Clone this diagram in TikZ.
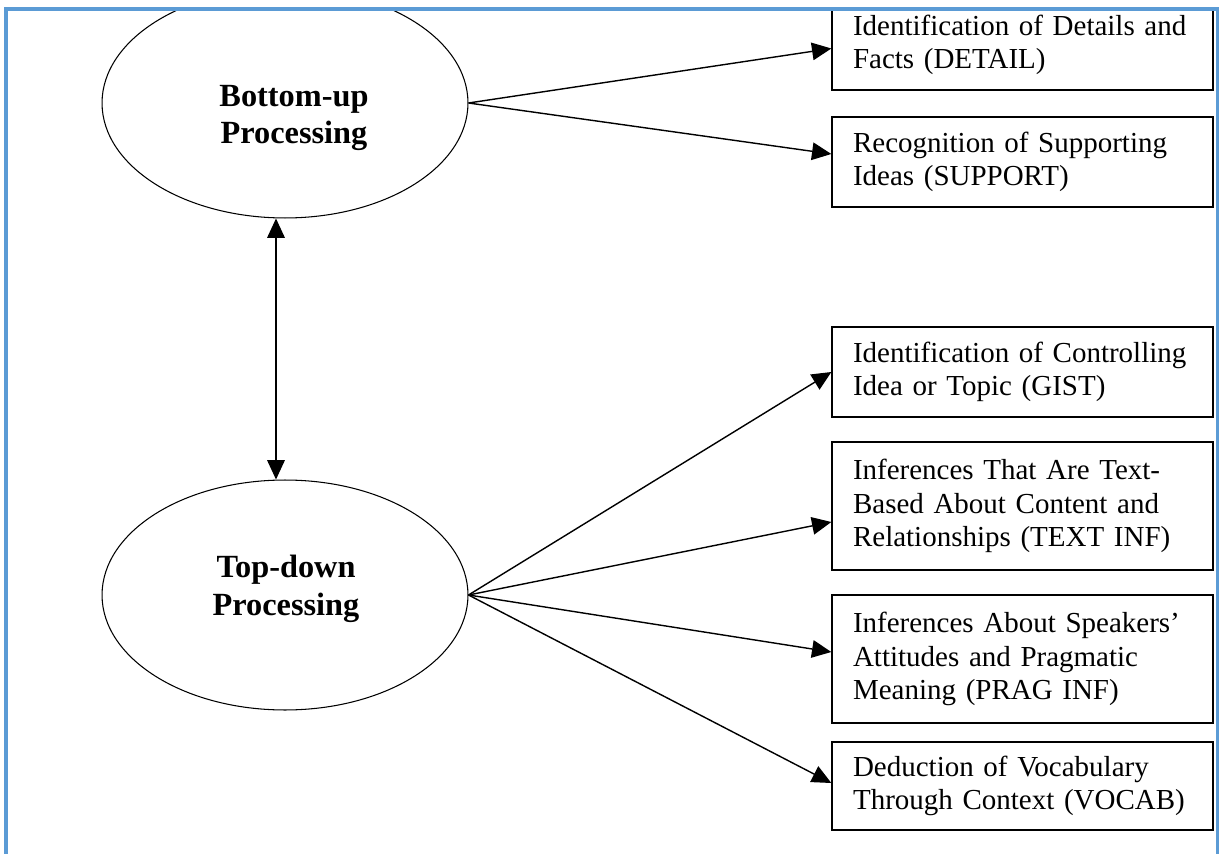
\documentclass[tikz,border=0pt]{standalone}
\usepackage{fontspec}
\setmainfont{Liberation Serif}
\usetikzlibrary{shapes,arrows.meta}
\definecolor{borderblue}{RGB}{91,155,213}

\begin{document}
\begin{tikzpicture}[x=0.02cm, y=-0.02cm,
    >={Triangle[length=11pt,width=10pt]},
    proc/.style={draw, ellipse, line width=0.6pt, minimum width=7.32cm, minimum height=4.6cm, inner sep=0pt},
    proctext/.style={align=center, inner sep=0pt, font=\fontsize{18.4}{21.5}\selectfont\bfseries},
    itembox/.style={draw, line width=0.8pt, text width=6.78cm, inner xsep=0.42cm, inner ysep=0pt,
        align=left, minimum height=1.8cm, font=\fontsize{16.5}{19}\selectfont},
    link/.style={->, line width=0.8pt}]
    % Page size, the screenshot is cut at the top and bottom
    \useasboundingbox (0,0) rectangle (1219,854);
    \begin{scope}
    \clip (6,9) rectangle (1218,854);

    % The two kinds of processing:
    \node [proc] (bu) at (285,103) {};
    \node [proc] (td) at (285,595) {};
    \node [proctext] (butext) at ([shift={(0.18cm,-0.3cm)}]bu.center) {Bottom-up\\Processing};
    \node [proctext] (tdtext) at ([shift={(0.02cm,0.12cm)}]td.center) {Top-down\\Processing};

    % Skills on the right:
    \node [itembox] (detail)  at (1022.5,45)  {Identification of Details and\\Facts (DETAIL)};
    \node [itembox] (support) at (1022.5,162) {Recognition of Supporting\\Ideas (SUPPORT)};
    \node [itembox] (gist)    at (1022.5,372) {Identification of Controlling\\Idea or Topic (GIST)};
    \node [itembox, minimum height=2.56cm] (textinf) at (1022.5,506)
        {Inferences That Are Text-\\Based About Content and\\Relationships (TEXT INF)};
    \node [itembox, minimum height=2.56cm] (prag) at (1022.5,659)
        {Inferences About Speakers'\\Attitudes and Pragmatic\\Meaning (PRAG INF)};
    \node [itembox, minimum height=1.76cm] (vocab) at (1022.5,786)
        {Deduction of Vocabulary\\Through Context (VOCAB)};

    % Arrows:
    \draw [<->, line width=0.8pt] ([xshift=-0.18cm]bu.south) -- ([xshift=-0.18cm]td.north);
    \draw [link] (bu.east) -- ([yshift=-0.07cm]detail.west);
    \draw [link] (bu.east) -- ([yshift=0.16cm]support.west);
    \draw [link] (td.east) -- (gist.west);
    \draw [link] (td.east) -- ([yshift=-0.32cm]textinf.west);
    \draw [link] (td.east) -- ([yshift=0.14cm]prag.west);
    \draw [link] (td.east) -- ([yshift=0.06cm]vocab.west);
    \end{scope}

    % Frame of the screenshot
    \draw [line width=2.2pt, borderblue] (6,870) -- (6,9) -- (1218,9) -- (1218,870);
\end{tikzpicture}
\end{document}
